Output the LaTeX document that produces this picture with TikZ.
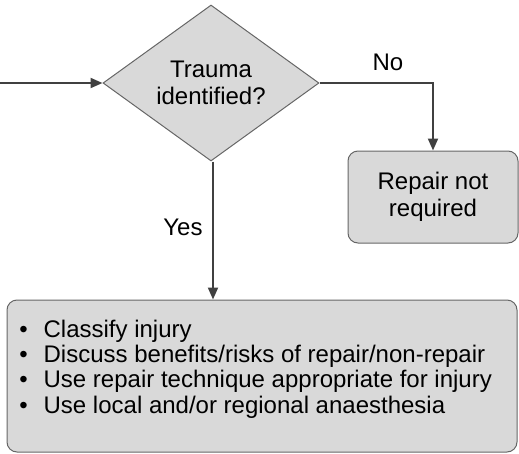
\documentclass[tikz,border=0pt]{standalone}
\usepackage{fontspec}
\setmainfont{Liberation Sans}
\usepackage{xcolor}
\usetikzlibrary{positioning, shapes.geometric, arrows.meta}
\definecolor{boxfill}{HTML}{D9D9D9}
\definecolor{boxline}{HTML}{666666}
\definecolor{flowline}{HTML}{404040}

\begin{document}
\begin{tikzpicture}[x=0.75pt, y=-0.75pt,
				DecNode/.style={diamond, draw=boxline, fill=boxfill, line width=0.75pt, aspect=1.385, inner sep=0pt, minimum width=162pt, minimum height=117pt, align=center, font=\fontsize{18}{20}\selectfont},
				EndNode/.style={rectangle, rounded corners=7.5pt, draw=boxline, fill=boxfill, line width=0.75pt, align=center, font=\fontsize{18}{20}\selectfont},
				FlowLine/.style={draw=flowline, line width=1.5pt, -{Triangle[length=9pt, width=7.5pt]}},
				LabelNode/.style={inner sep=0pt, font=\fontsize{18}{19}\selectfont}]

			\useasboundingbox (0,0) rectangle (519,454);

			\coordinate (In) at (0,83);

			\node[DecNode] (Trauma) at (211,83) {Trauma\\identified?};
			\node[EndNode, minimum width=127.5pt, minimum height=69pt] (NoRepair) at (433,197) {Repair not\\required};
			\node[EndNode, minimum width=382.5pt, minimum height=114pt] (Repair) at (262,376) {};
			\node[LabelNode, anchor=west, align=left] (Steps) at (19,369) {\textbullet\hspace{12pt}Classify injury\\
				\textbullet\hspace{12pt}Discuss benefits/risks of repair/non-repair\\
				\textbullet\hspace{12pt}Use repair technique appropriate for injury\\
				\textbullet\hspace{12pt}Use local and/or regional anaesthesia};

			\draw[FlowLine] (In) to (Trauma.west);
			\draw[FlowLine] (Trauma.east) -| (NoRepair.north);
			\node[LabelNode] (No) at (388,62) {No};
			\draw[FlowLine] ([xshift=1.5pt]Trauma.south) -- ([xshift=1.5pt]Trauma.south |- Repair.north);
			\node[LabelNode] (Yes) at (183,227) {Yes};
		\end{tikzpicture}
\end{document}
